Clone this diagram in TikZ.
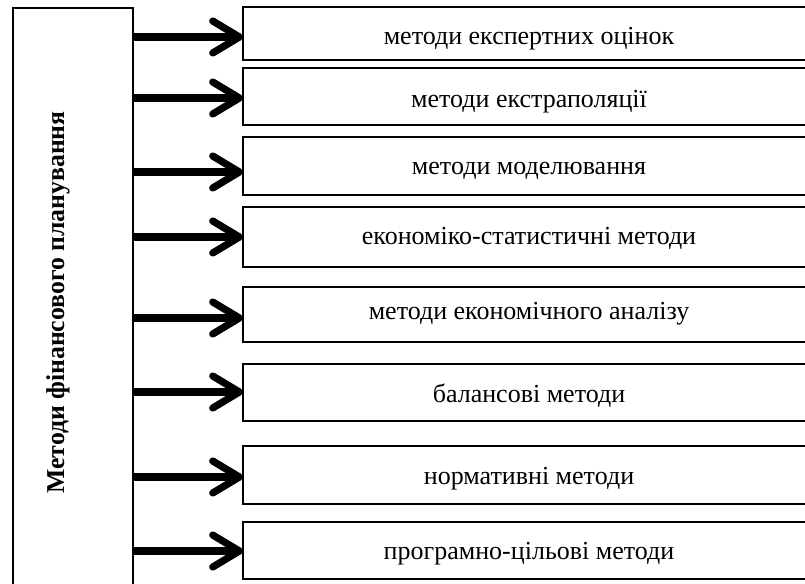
\documentclass[tikz,border=0pt]{standalone}
\usepackage{fontspec}
\setmainfont{Liberation Serif}
\usetikzlibrary{arrows.meta}
\begin{document}
\begin{tikzpicture}[x=0.75pt,y=-0.75pt,
  frame/.style={draw=black,line width=2.1pt},
  lbl/.style={font=\fontsize{19.5}{22}\selectfont,anchor=base},
  conn/.style={line width=5.4pt,-{Straight Barb[length=20pt,width=24pt,round]}}]
\useasboundingbox (0,0) rectangle (805,584);
\draw[frame] (13,8) rectangle (133,600);
\node[font=\bfseries\fontsize{19.3}{21}\selectfont,rotate=90,anchor=base] (title) at (64,302.5) {Методи фінансового планування};
\def\boxes{7/60/37/45/методи експертних оцінок,68/125/98/108/методи екстраполяції,137/195/172/175/методи моделювання,207/267/237/245/економіко-статистичні методи,287/342/318/319/методи економічного аналізу,364/421/392/402/балансові методи,446/504/477/484/нормативні методи,522/579/551/559/програмно-цільові методи}
\foreach \t/\b/\a/\bl/\txt [count=\i] in \boxes {
  \draw[frame] (243,\t) rectangle (814,\b);
  \coordinate (b\i) at (243,\a);
  \coordinate (s\i) at (133,\a);
  \node[lbl] (l\i) at (529,\bl) {\txt};
  \draw[conn] (s\i) -- (b\i);
}
\end{tikzpicture}
\end{document}
